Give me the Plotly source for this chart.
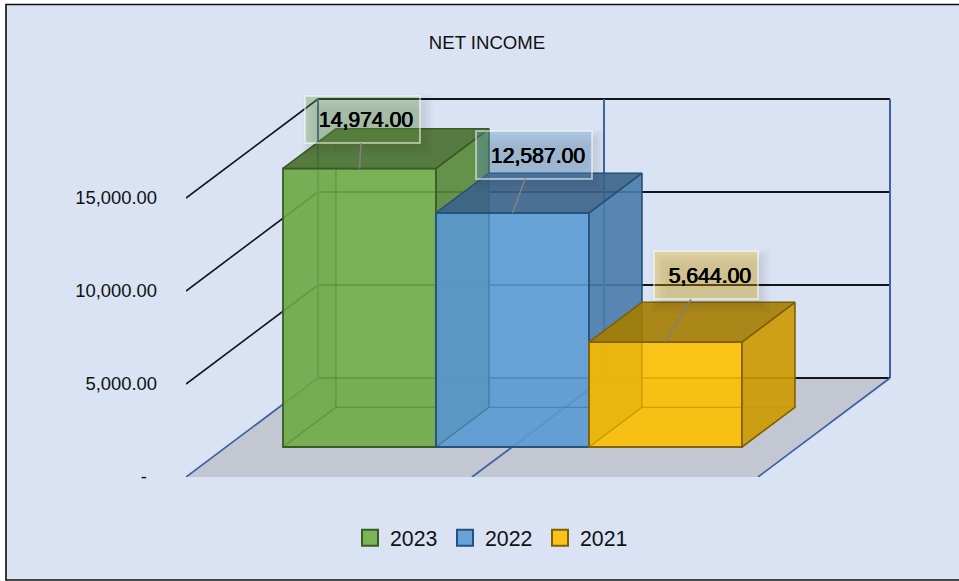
import plotly.graph_objects as go

# ---- data ----
series_names = ["2023", "2022", "2021"]
net_income = [14974, 12587, 5644]
data_labels = ["14,974.00", "12,587.00", "5,644.00"]
tick_values = [0, 5000, 10000, 15000]
tick_labels = ["-\u00a0\u00a0", "5,000.00", "10,000.00", "15,000.00"]
title_text = "NET INCOME"

# ---- style ----
front_colors = [(112, 173, 71), (91, 155, 213), (255, 192, 0)]
edge_colors = ["#3A5C25", "#23527F", "#806000"]
BG = "#DAE3F3"
FLOOR = "#C3C7D1"
BLUE_LINE = "#3F62A3"
BLACK_LINE = "#141414"
FONT = "Liberation Sans"

# oblique projection: one x unit is 286px, full depth moves +132px right / 99px up
L, R, T, B = 186, 896, 93, 477
X_UNIT = 286
Y_SCALE = 93 / 5000
DEPTH_X = 132 / X_UNIT
DEPTH_Y = 99 / Y_SCALE
X_MAX = (R - L) / X_UNIT
Y_MAX = (B - T) / Y_SCALE
BAR_START = 57 / X_UNIT
BAR_W = 153 / X_UNIT
D0, D1 = 30 / 99, 69.7 / 99
Y_TOP = tick_values[-1]


def pt(x, v, d):
    return x + d * DEPTH_X, v + d * DEPTH_Y


def rgba(c, a, k=1.0):
    return f"rgba({int(c[0]*k)},{int(c[1]*k)},{int(c[2]*k)},{a})"


fig = go.Figure()


def poly(points, fill, line, width, axis, name):
    xs, ys = zip(*[pt(*p) for p in points + points[:1]])
    fig.add_trace(go.Scatter(
        x=list(xs), y=list(ys), mode="lines", fill="toself" if fill else None,
        fillcolor=fill, line=dict(color=line, width=width), hoverinfo="skip",
        showlegend=False, name=name, xaxis=axis[0], yaxis=axis[1], cliponaxis=False))


def seg(p, q, color, width, name):
    xs, ys = zip(pt(*p), pt(*q))
    fig.add_trace(go.Scatter(
        x=list(xs), y=list(ys), mode="lines", line=dict(color=color, width=width),
        hoverinfo="skip", showlegend=False, name=name, cliponaxis=False))


# floor
poly([(0, 0, 0), (2, 0, 0), (2, 0, 1), (0, 0, 1)], FLOOR, "rgba(0,0,0,0)", 0, ("x", "y"), "floor")
# back wall + side wall gridlines
for v in tick_values:
    seg((0, v, 1), (2, v, 1), BLACK_LINE, 2, "wall grid")
    if v > 0:
        seg((0, v, 0), (0, v, 1), BLACK_LINE, 1.6, "side grid")
for i in range(3):
    seg((i, 0, 0), (i, 0, 1), BLUE_LINE, 1.8, "floor divider")
    seg((i, 0, 1), (i, Y_TOP, 1), BLUE_LINE, 2, "wall divider")

# bars, one overlaying axis pair each so that later bars paint over earlier ones
for i, (name, val) in enumerate(zip(series_names, net_income)):
    ax = (f"x{i+2}", f"y{i+2}")
    c = front_colors[i]
    e = edge_colors[i]
    x0 = BAR_START + i * BAR_W
    x1 = x0 + BAR_W
    fig.add_trace(go.Bar(
        x=[pt(x0 + BAR_W / 2, 0, D0)[0]], y=[val], base=[D0 * DEPTH_Y], width=[BAR_W],
        marker=dict(color=rgba(c, 0.9), line=dict(color=e, width=1.8)),
        name=name, showlegend=False, hoverinfo="skip", xaxis=ax[0], yaxis=ax[1]))
    thin = rgba(c, 0.22, 0.6)
    # hidden faces seen through the translucent front
    poly([(x0, 0, D0), (x0, 0, D1), (x0, val, D1), (x0, val, D0)], rgba(c, 0.05, 0.6), thin, 1.2, ax, name)
    poly([(x0, 0, D1), (x1, 0, D1), (x1, val, D1), (x0, val, D1)], rgba(c, 0.01, 0.6), thin, 1.2, ax, name)
    poly([(x0, 0, D0), (x1, 0, D0), (x1, 0, D1), (x0, 0, D1)], rgba(c, 0.01, 0.6), thin, 1.2, ax, name)
    # visible faces
    poly([(x1, 0, D0), (x1, 0, D1), (x1, val, D1), (x1, val, D0)], rgba(c, 0.9, 0.8), e, 1.6, ax, name)
    poly([(x0, val, D0), (x1, val, D0), (x1, val, D1), (x0, val, D1)], rgba(c, 0.9, 0.65), e, 1.6, ax, name)

# legend swatches
for name, c, e in zip(series_names, front_colors, edge_colors):
    fig.add_trace(go.Scatter(
        x=[None], y=[None], mode="markers", name=name, hoverinfo="skip",
        marker=dict(symbol="square", size=16, color=rgba(c, 0.9), line=dict(color=e, width=2))))

# callouts: (box width, box height, box-centre offset from the bar's front top centre)
boxes = [(115, 47, 3, -49), (116, 48, 21.5, -58), (104, 48, 40, -67)]
shapes = [dict(type="rect", xref="paper", yref="paper",
               x0=(6 - L) / (R - L), x1=(962 - L) / (R - L),
               y0=(B - 580) / (B - T), y1=(B - 4.5) / (B - T),
               line=dict(color="#0C0C0C", width=1.6), fillcolor=BG, layer="below")]
annotations = []
for i, (txt, val) in enumerate(zip(data_labels, net_income)):
    w, h, dx, dy = boxes[i]
    c = front_colors[i]
    ax_x, ax_y = pt(BAR_START + i * BAR_W + BAR_W / 2, val, D0)
    for k in range(-8, 10, 2):
        shapes.append(dict(
            type="rect", xref="x", yref="y", xsizemode="pixel", ysizemode="pixel",
            xanchor=ax_x, yanchor=ax_y,
            x0=dx - w / 2 + 5 - k, x1=dx + w / 2 + 5 + k,
            y0=-dy - h / 2 - 6 - k, y1=-dy + h / 2 - 6 + k,
            line=dict(width=0), fillcolor="rgba(40,40,40,0.018)", layer="above"))
    annotations.append(dict(
        x=ax_x, y=ax_y, xref="x", yref="y", text=txt + "\u00a0", showarrow=True, arrowhead=0,
        arrowwidth=1.5, arrowcolor="#808080", ax=dx, ay=dy, axref="pixel", ayref="pixel",
        width=w - 2, height=h - 2, borderwidth=2, borderpad=0, align="right", valign="middle",
        bgcolor=rgba(c, 0.3), bordercolor="rgba(255,255,255,0.5)",
        font=dict(family=FONT, size=21.2, color="#000", shadow="0.5px 0 0 #000, -0.3px 0 0 #000")))

layout = dict(
    width=959, height=581, autosize=False,
    margin=dict(l=L, r=959 - R, t=T, b=581 - B, pad=0),
    paper_bgcolor="#FFFFFF", plot_bgcolor="rgba(0,0,0,0)",
    barmode="overlay", showlegend=True, shapes=shapes, annotations=annotations,
    font=dict(family=FONT, color="#111111"),
    title=dict(text=title_text, x=487 / 959, y=1 - 42.5 / 581, xref="container", yref="container",
               xanchor="center", yanchor="middle", font=dict(family=FONT, size=18.6, color="#111111")),
    legend=dict(orientation="h", x=(350 - L) / (R - L), y=(B - 538) / (B - T), xanchor="left", yanchor="middle",
                entrywidth=50, entrywidthmode="pixels", bgcolor="rgba(0,0,0,0)",
                font=dict(family=FONT, size=21.3, color="#111111"), traceorder="normal"),
    xaxis=dict(range=[0, X_MAX], visible=False, fixedrange=True),
    yaxis=dict(range=[0, Y_MAX], tickvals=tick_values, ticktext=tick_labels, showgrid=False,
               zeroline=False, showline=False, ticks="", ticklabelstandoff=28,
               tickfont=dict(family=FONT, size=18.4, color="#111111"), fixedrange=True),
)
for i in range(2, 5):
    layout[f"xaxis{i}"] = dict(range=[0, X_MAX], visible=False, overlaying="x", fixedrange=True)
    layout[f"yaxis{i}"] = dict(range=[0, Y_MAX], visible=False, overlaying="y", fixedrange=True)
fig.update_layout(**layout)

fig.write_html("out.html", config=dict(displayModeBar=False),
               post_script="document.body.style.margin='0';document.documentElement.style.overflow='hidden';")
